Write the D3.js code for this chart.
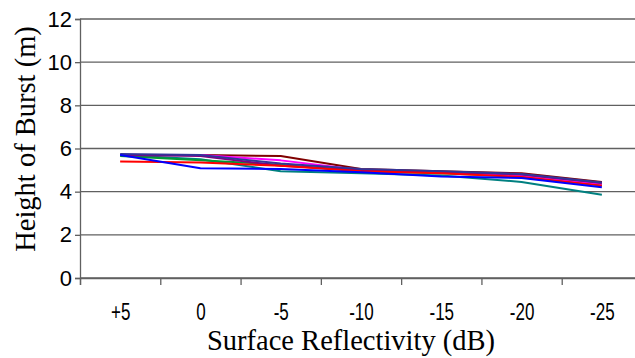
<!DOCTYPE html>
<html>
<head>
<meta charset="utf-8">
<script src="https://cdn.jsdelivr.net/npm/d3@7"></script>
<style>
  html, body { margin: 0; padding: 0; background: #fff; }
  svg { display: block; }
</style>
</head>
<body>
<div id="chart"></div>
<script>
// categories along the x axis (surface reflectivity, dB)
const categories = ["+5", "0", "-5", "-10", "-15", "-20", "-25"];
const yTicks = [0, 2, 4, 6, 8, 10, 12];

// one height-of-burst curve per run (m)
const seriesTeal    = [5.70, 5.50, 4.95, 4.85, 4.75, 4.45, 3.86];
const seriesGreen   = [5.65, 5.45, 5.25, 4.95, 4.85, 4.70, 4.30];
const seriesDarkRed = [5.70, 5.70, 5.65, 5.05, 4.95, 4.85, 4.45];
const seriesMagenta = [5.70, 5.70, 5.45, 5.00, 4.90, 4.75, 4.35];
const seriesPurple  = [5.70, 5.65, 5.20, 5.00, 4.90, 4.80, 4.40];
const seriesNavy    = [5.75, 5.70, 5.30, 5.05, 4.95, 4.82, 4.43];
const seriesRed     = [5.40, 5.35, 5.20, 4.95, 4.85, 4.68, 4.28];
const seriesBlue    = [5.70, 5.08, 5.05, 4.90, 4.70, 4.63, 4.20];

const series = [
  { name: "teal", color: "#008080", values: seriesTeal },
  { name: "green", color: "#009933", values: seriesGreen },
  { name: "darkred", color: "#800000", values: seriesDarkRed },
  { name: "magenta", color: "#ff00ff", values: seriesMagenta },
  { name: "purple", color: "#800080", values: seriesPurple },
  { name: "navy", color: "#333399", values: seriesNavy },
  { name: "red", color: "#ff0000", values: seriesRed },
  { name: "blue", color: "#0000ff", values: seriesBlue }
];

const W = 635, H = 358;
const plot = { left: 80, right: 642, top: 19, bottom: 278 };

const svg = d3.select("#chart").append("svg")
  .attr("width", W)
  .attr("height", H);

const x = d3.scalePoint()
  .domain(categories)
  .range([plot.left, plot.right])
  .padding(0.5);

// boundary ticks sit between categories
const xEdge = d3.scaleLinear()
  .domain([0, categories.length])
  .range([plot.left, plot.right]);

const y = d3.scaleLinear()
  .domain([0, 12])
  .range([plot.bottom, plot.top]);

// horizontal gridlines
svg.append("g")
  .selectAll("line")
  .data(yTicks)
  .join("line")
    .attr("x1", plot.left)
    .attr("x2", plot.right)
    .attr("y1", d => y(d))
    .attr("y2", d => y(d))
    .attr("stroke", "#606060")
    .attr("stroke-width", 1.3);

// y axis
const yAxis = svg.append("g")
  .attr("transform", `translate(${plot.left},0)`)
  .call(d3.axisLeft(y).tickValues(yTicks).tickSize(5).tickPadding(3));
yAxis.select(".domain").attr("stroke", "#606060").attr("stroke-width", 1.3);
yAxis.selectAll(".tick line").attr("stroke", "#606060").attr("stroke-width", 1.3);
yAxis.selectAll("text")
  .attr("fill", "#000")
  .style("font-family", "'Liberation Sans', Arial, sans-serif")
  .style("font-size", "22px");

// x axis tick marks at category boundaries
const xTickAxis = svg.append("g")
  .attr("transform", `translate(0,${plot.bottom})`)
  .call(d3.axisBottom(xEdge).tickValues(d3.range(0, categories.length + 1)).tickSize(7).tickFormat(""));
xTickAxis.select(".domain").attr("stroke", "#606060").attr("stroke-width", 1.3);
xTickAxis.selectAll(".tick line").attr("stroke", "#606060").attr("stroke-width", 1.3);

// x axis labels at category centres
const xLabelAxis = svg.append("g")
  .attr("transform", `translate(0,${plot.bottom})`)
  .call(d3.axisBottom(x).tickSize(0).tickPadding(26));
xLabelAxis.select(".domain").remove();
xLabelAxis.selectAll("text")
  .attr("fill", "#000")
  .attr("transform", "scale(0.74,1)")
  .style("font-family", "'Liberation Sans', Arial, sans-serif")
  .style("font-size", "23px");

// data lines
const line = d3.line()
  .x((d, i) => x(categories[i]))
  .y(d => y(d));

svg.append("g")
  .selectAll("path")
  .data(series)
  .join("path")
    .attr("d", d => line(d.values))
    .attr("fill", "none")
    .attr("stroke", d => d.color)
    .attr("stroke-width", 2)
    .attr("stroke-linejoin", "round");

// axis titles
svg.append("text")
  .attr("x", 351)
  .attr("y", 350)
  .attr("text-anchor", "middle")
  .style("font-family", "'Liberation Serif', 'Times New Roman', serif")
  .style("font-size", "28.5px")
  .text("Surface Reflectivity (dB)");

svg.append("text")
  .attr("transform", "translate(35,139) rotate(-90)")
  .attr("text-anchor", "middle")
  .style("font-family", "'Liberation Serif', 'Times New Roman', serif")
  .style("font-size", "28.5px")
  .text("Height of Burst (m)");
</script>
</body>
</html>
